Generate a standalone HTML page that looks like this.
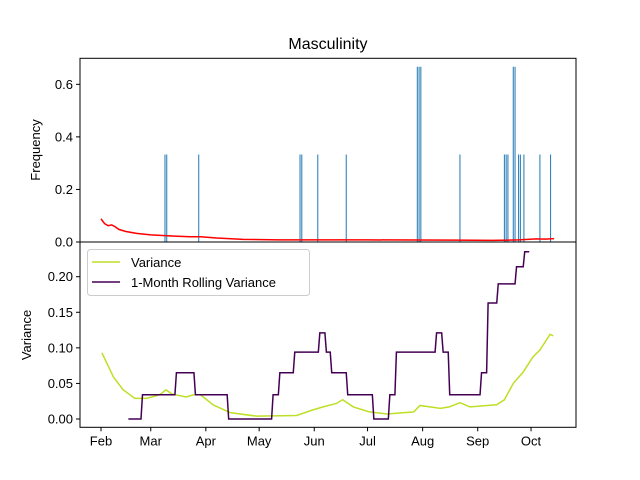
<!DOCTYPE html>
<html><head><meta charset="utf-8"><style>
body{margin:0;background:#fff}
svg{font-family:"Liberation Sans","DejaVu Sans",sans-serif;display:block}
</style></head><body>
<svg id="chart" width="640" height="480">
<text x="328" y="49" font-size="16" text-anchor="middle">Masculinity</text>
<g id="topAx"></g>
<g id="botAx"></g>
<text transform="translate(40,150) rotate(-90)" font-size="13" text-anchor="middle">Frequency</text>
<text transform="translate(31,335) rotate(-90)" font-size="13" text-anchor="middle">Variance</text>
</svg>
<script>
const months=["Feb","Mar","Apr","May","Jun","Jul","Aug","Sep","Oct"];
const monthDays=[0,28,59,89,120,150,181,212,242];
const barDays=[36,37,55,112,113,122,138,178,179,180,202,227,228,229,232,233,235,236,238,247,253];
const barVals=[0.333,0.333,0.333,0.333,0.333,0.333,0.333,0.667,0.667,0.667,0.333,0.333,0.333,0.333,0.667,0.667,0.333,0.333,0.333,0.333,0.333];
const freqDays=[0,2,4,6,8,10,14,20,28,40,50,56,65,80,100,150,200,220,235,245,250,255];
const freqVals=[0.088,0.07,0.062,0.065,0.058,0.048,0.04,0.033,0.027,0.023,0.02,0.02,0.015,0.01,0.008,0.008,0.007,0.006,0.008,0.012,0.011,0.013];
const varDays=[0.5,7,12.5,19,25.7,33,36.6,40,48,52,56,63,72.6,87.6,110,119.5,125,132.6,136,142,151,161,176,179.5,191,196,202,207.6,222.7,227,232,237.6,243,247,252.7,254.5];
const varVals=[0.093,0.059,0.041,0.029,0.029,0.034,0.041,0.035,0.031,0.034,0.034,0.02,0.009,0.004,0.005,0.013,0.017,0.022,0.027,0.017,0.010,0.007,0.010,0.019,0.015,0.017,0.023,0.017,0.020,0.027,0.050,0.066,0.087,0.097,0.119,0.117];
const rollDays=[15.4,22.5,41.6,52.3,71,96,99.8,108.2,122.3,126,129,138,152.7,161.7,165.4,188,191.7,195.4,213.3,217,222.7,233,237.6];
const rollVals=[0,0.034,0.065,0.034,0,0.034,0.065,0.094,0.121,0.094,0.065,0.034,0,0.034,0.094,0.121,0.094,0.034,0.065,0.163,0.19,0.214,0.235];
const rollEnd=241;
const topTicks=[0,0.2,0.4,0.6];
const botTicks=[0,0.05,0.1,0.15,0.2];

const NS="http://www.w3.org/2000/svg";
const L=80,R=576,T1=58.3,B1=242,B2=427.3;
const x=d=>101+d*1.777;
const y1=v=>242-v*262.8;
const y2=v=>419-v*711.5;
function mk(p,tag,a){const e=document.createElementNS(NS,tag);for(const k in a)e.setAttribute(k,a[k]);p.appendChild(e);return e;}
const topG=document.getElementById('topAx'),botG=document.getElementById('botAx');

barDays.forEach((d,i)=>{const e=mk(topG,'line',{x1:x(d),x2:x(d),y1:y1(0),y2:y1(barVals[i]),stroke:'#1f77b4','stroke-width':1});

});
const fp=mk(topG,'polyline',{points:freqDays.map((d,i)=>x(d)+','+y1(freqVals[i])).join(' '),fill:'none',stroke:'#ff0000','stroke-width':1.5});


mk(topG,'rect',{x:L,y:T1,width:R-L,height:B1-T1,fill:'none',stroke:'#000','stroke-width':1});
topTicks.forEach(v=>{mk(topG,'line',{x1:L-4,x2:L,y1:y1(v),y2:y1(v),stroke:'#000'});
const t=mk(topG,'text',{x:L-7,y:y1(v)+4.5,'font-size':13,'text-anchor':'end'});t.textContent=v.toFixed(1);

});

const vp=mk(botG,'polyline',{points:varDays.map((d,i)=>x(d)+','+y2(varVals[i])).join(' '),fill:'none',stroke:'#bddf26','stroke-width':1.5});


const pts=[[x(rollDays[0]),y2(rollVals[0])]];
for(let i=1;i<rollDays.length;i++){pts.push([x(rollDays[i]),y2(rollVals[i-1])]);pts.push([x(rollDays[i])+1.5,y2(rollVals[i])]);}
pts.push([x(rollEnd),y2(rollVals[rollVals.length-1])]);
const rp=mk(botG,'polyline',{points:pts.map(p=>p.join(',')).join(' '),fill:'none',stroke:'#440154','stroke-width':1.5});


mk(botG,'rect',{x:L,y:B1,width:R-L,height:B2-B1,fill:'none',stroke:'#000','stroke-width':1});
botTicks.forEach(v=>{mk(botG,'line',{x1:L-4,x2:L,y1:y2(v),y2:y2(v),stroke:'#000'});
const t=mk(botG,'text',{x:L-7,y:y2(v)+4.5,'font-size':13,'text-anchor':'end'});t.textContent=v.toFixed(2);

});
months.forEach((m,i)=>{const xx=x(monthDays[i]);mk(botG,'line',{x1:xx,x2:xx,y1:B2,y2:B2+4,stroke:'#000'});
const t=mk(botG,'text',{x:xx,y:B2+18,'font-size':13,'text-anchor':'middle'});t.textContent=m;

});
const lg=mk(botG,'g',{});


mk(lg,'rect',{x:87.5,y:249.5,width:222,height:46,rx:3,fill:'#fff','fill-opacity':0.8,stroke:'#ccc'});
mk(lg,'line',{x1:92,x2:120,y1:262,y2:262,stroke:'#bddf26','stroke-width':1.5});
mk(lg,'line',{x1:92,x2:120,y1:282,y2:282,stroke:'#440154','stroke-width':1.5});
const t1=mk(lg,'text',{x:131,y:267,'font-size':13});t1.textContent='Variance';


const t2=mk(lg,'text',{x:131,y:287,'font-size':13});t2.textContent='1-Month Rolling Variance';


</script>
</body></html>
